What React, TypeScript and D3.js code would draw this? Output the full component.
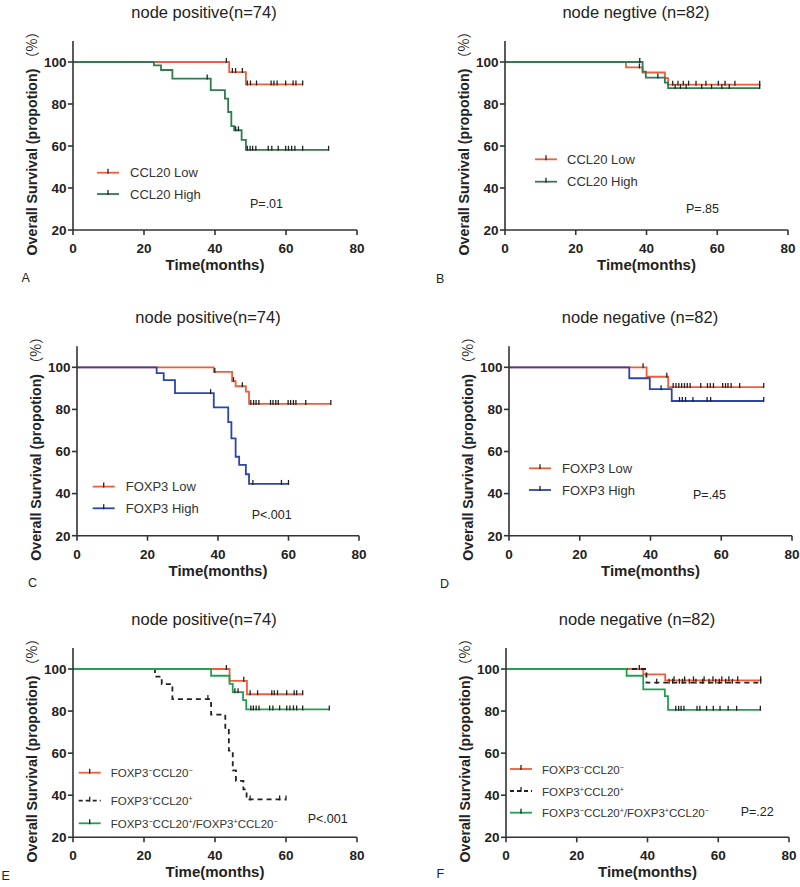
import React from "react";
import * as d3 from "d3";

// ---------------- data ----------------
const xTicks = [0, 20, 40, 60, 80];
const yTicks = [20, 40, 60, 80, 100];
const titles = [
  "node positive(n=74)",
  "node negtive (n=82)",
  "node positive(n=74)",
  "node negative (n=82)",
  "node positive(n=74)",
  "node negative (n=82)",
];
const panelLetters = ["A", "B", "C", "D", "E", "F"];
const pValues = ["P=.01", "P=.85", "P<.001", "P=.45", "P<.001", "P=.22"];
const legendCCL20 = ["CCL20 Low", "CCL20 High"];
const legendFOXP3 = ["FOXP3 Low", "FOXP3 High"];
const legendCombo = ["FOXP3^-CCL20^-", "FOXP3^+CCL20^+", "FOXP3^-CCL20^+/FOXP3^+CCL20^-"];

// Panel A: CCL20, node positive
const aLowSteps = [[0, 100], [44.0, 95.2], [48.7, 89.3]];
const aLowCensor = [43.2, 44.9, 45.8, 47.7, 49.1, 50.0, 51.7, 55.8, 56.6, 57.5, 59.9, 62.0, 62.8, 64.7];
const aHighSteps = [[0, 100], [22.8, 98.4], [24.8, 96.2], [28.0, 92.1], [38.8, 86.6], [42.8, 82.6], [43.7, 76.2], [44.6, 69.5], [45.4, 67.5], [47.5, 62.9], [48.7, 58.2]];
const aHighCensor = [37.8, 45.8, 46.6, 49.1, 49.9, 50.6, 51.5, 55.0, 56.0, 57.8, 59.9, 60.7, 61.6, 62.5, 64.7, 72];

// Panel B: CCL20, node negative
const bLowSteps = [[0, 100], [34.2, 97.4], [38.9, 95.0], [45.2, 92.3], [46.1, 89.2]];
const bLowCensor = [38.0, 47.4, 48.9, 50.4, 51.9, 54.0, 56.8, 60.3, 62.2, 65.0, 72];
const bHighSteps = [[0, 100], [38.9, 95.4], [39.8, 92.6], [45.2, 90.2], [46.1, 87.6]];
const bHighCensor = [38.1, 43.2, 48.1, 49.6, 51.2, 55.6, 58.4, 61.3, 63.4, 72];

// Panel C: FOXP3, node positive
const cLowSteps = [[0, 100], [38.8, 97.8], [44.0, 93.4], [45.0, 91.0], [47.9, 88.4], [48.8, 82.6]];
const cLowCensor = [39.1, 44.4, 46.9, 49.3, 50.1, 50.8, 51.6, 54.9, 55.6, 56.4, 57.1, 59.9, 60.6, 61.4, 62.1, 64.9, 72];
const cHighSteps = [[0, 100], [22.6, 97.2], [24.6, 93.9], [27.8, 87.7], [38.8, 81.0], [42.9, 74.0], [43.8, 66.2], [45.0, 57.5], [46.0, 53.6], [47.9, 49.2], [48.8, 44.6]];
const cHighCensor = [37.9, 49.9, 58.0, 60.0];

// Panel D: FOXP3, node negative
const dLowSteps = [[0, 100], [38.9, 95.5], [45.0, 90.6]];
const dLowCensor = [37.9, 44.6, 46.4, 47.2, 48.0, 48.8, 49.6, 50.4, 51.2, 54.2, 56.1, 56.9, 57.8, 60.4, 61.2, 61.9, 62.8, 65.2, 72];
const dHighSteps = [[0, 100], [34.0, 94.8], [39.8, 89.6], [46.0, 84.0]];
const dHighCensor = [43.0, 48.2, 49.0, 49.9, 52.0, 56.0, 57.0, 72];

// Panel E: combined, node positive
const eLowSteps = [[0, 100], [44.1, 94.4], [49.0, 88.0]];
const eLowCensor = [43.2, 48.1, 49.9, 52.0, 56.0, 56.7, 57.6, 60.2, 62.3, 63.0, 64.7];
const eBothSteps = [[0, 100], [23.1, 96.4], [25.0, 92.8], [28.0, 85.7], [38.9, 78.3], [42.9, 71.0], [43.9, 61.2], [45.0, 51.8], [45.9, 46.8], [48.0, 42.8], [48.9, 38.0]];
const eBothCensor = [38.0, 49.9, 58.2, 60.0];
const eMixSteps = [[0, 100], [38.9, 96.8], [44.1, 92.9], [45.0, 89.0], [47.9, 85.2], [48.8, 80.8]];
const eMixCensor = [45.6, 46.5, 50.1, 50.8, 51.6, 52.4, 55.4, 56.3, 58.2, 60.2, 61.1, 62.1, 63.0, 64.7, 72.2];

// Panel F: combined, node negative
const fLowSteps = [[0, 100], [38.8, 97.4], [45.0, 94.6]];
const fLowCensor = [37.7, 47.5, 50.5, 53.0, 56.0, 58.5, 61.0, 63.0, 65.5, 72];
const fBothSteps = [[0, 100], [39.7, 93.5]];
const fBothCensor = [42.6, 46.1, 47.1, 49.0, 49.9, 51.8, 53.7, 55.6, 57.4, 59.3, 60.3, 62.1, 64.0, 72];
const fMixSteps = [[0, 100], [34.1, 96.8], [38.8, 90.3], [44.9, 87.1], [45.8, 80.6]];
const fMixCensor = [48.0, 48.8, 49.5, 50.3, 54.0, 54.8, 56.7, 58.6, 60.5, 62.8, 65.2, 71.9];

// ---------------- styles / layout ----------------
const RED = "#ef5d3b";
const GREEN_DARK = "#2f7b52";
const GREEN = "#22a052";
const BLUE = "#2c45aa";
const BLACK = "#222";
const AXIS = "#333";
const FONT = "'Liberation Sans', Arial, Helvetica, sans-serif";

const layouts = [
  { x0: 73, x80: 357, y20: 230, y100: 62, leg: [24, 33, [110.7, 132]], p: [177, 146], letter: [21.5, 282], legFont: 13 },
  { x0: 505, x80: 788, y20: 230, y100: 62, leg: [30, 32, [97.3, 119.7]], p: [181, 150.7], letter: [436, 283], legFont: 13 },
  { x0: 77, x80: 359, y20: 535.7, y100: 367.3, leg: [15.7, 33, [119.3, 141]], p: [174.7, 152], letter: [28, 587], legFont: 13 },
  { x0: 509, x80: 792, y20: 535.7, y100: 367.3, leg: [20, 33, [101, 122.7]], p: [184, 132], letter: [440, 588], legFont: 13 },
  { x0: 73, x80: 357, y20: 837.3, y100: 669, leg: [5.7, 32, [103.7, 131.7, 154.3]], p: [234.7, 154.3], letter: [1.5, 880], legFont: 11.5 },
  { x0: 506, x80: 789, y20: 837.3, y100: 669, leg: [4, 32, [100, 122, 143.7]], p: [234.7, 147], letter: [436.5, 878], legFont: 11.5 },
];

type Series = { steps: number[][]; censor: number[]; color: string; dash?: string };

const panelSeries: Series[][] = [
  [
    { steps: aLowSteps, censor: aLowCensor, color: RED },
    { steps: aHighSteps, censor: aHighCensor, color: GREEN_DARK },
  ],
  [
    { steps: bLowSteps, censor: bLowCensor, color: RED },
    { steps: bHighSteps, censor: bHighCensor, color: GREEN_DARK },
  ],
  [
    { steps: cLowSteps, censor: cLowCensor, color: RED },
    { steps: cHighSteps, censor: cHighCensor, color: BLUE },
  ],
  [
    { steps: dLowSteps, censor: dLowCensor, color: RED },
    { steps: dHighSteps, censor: dHighCensor, color: BLUE },
  ],
  [
    { steps: eLowSteps, censor: eLowCensor, color: RED },
    { steps: eBothSteps, censor: eBothCensor, color: BLACK, dash: "5,4" },
    { steps: eMixSteps, censor: eMixCensor, color: GREEN },
  ],
  [
    { steps: fLowSteps, censor: fLowCensor, color: RED },
    { steps: fBothSteps, censor: fBothCensor, color: BLACK, dash: "5,4" },
    { steps: fMixSteps, censor: fMixCensor, color: GREEN },
  ],
];
const panelLegends = [legendCCL20, legendCCL20, legendFOXP3, legendFOXP3, legendCombo, legendCombo];

function levelAt(steps: number[][], t: number) {
  const i = d3.bisectRight(steps.map((s) => s[0]), t) - 1;
  return steps[Math.max(0, i)][1];
}

function LegendLabel({ label, size }: { label: string; size: number }) {
  const parts = label.split(/\^([+-])/);
  const out: any[] = [];
  parts.forEach((p, i) => {
    if (i % 2 === 0) {
      if (p) out.push(<tspan key={i} fontSize={size}>{p}</tspan>);
    } else {
      out.push(
        <tspan key={i} fontSize={size * 0.62} baselineShift="super">
          {p === "-" ? "\u2212" : "+"}
        </tspan>
      );
    }
  });
  return <>{out}</>;
}

function Panel({ idx }: { idx: number }) {
  const L = layouts[idx];
  const series = panelSeries[idx];
  const legend = panelLegends[idx];
  const x = d3.scaleLinear().domain([0, 80]).range([L.x0, L.x80]);
  const y = d3.scaleLinear().domain([20, 100]).range([L.y20, L.y100]);
  const line = d3
    .line<number[]>()
    .x((d) => x(d[0]))
    .y((d) => y(d[1]))
    .curve(d3.curveStepAfter);

  const yTop = y(110);
  const midX = (x(0) + x(80)) / 2;

  return (
    <g>
      {/* title */}
      <text x={L.x0 + 131} y={L.y100 - 44} textAnchor="middle" fontFamily={FONT} fontSize={16.5} fill="#222">
        {titles[idx]}
      </text>

      {/* curves */}
      {series.map((s, i) => {
        const end = d3.max(s.censor) as number;
        const pts = [...s.steps, [end, s.steps[s.steps.length - 1][1]]];
        return (
          <path
            key={"l" + i}
            d={line(pts) || ""}
            fill="none"
            stroke={s.color}
            strokeWidth={1.8}
            strokeDasharray={s.dash}
          />
        );
      })}
      {series.map((s, i) => (
        <g key={"c" + i}>
          {s.censor.map((c, j) => {
            const yy = y(levelAt(s.steps, c));
            return <line key={j} x1={x(c)} x2={x(c)} y1={yy - 4} y2={yy + 1} stroke={BLACK} strokeWidth={1.3} />;
          })}
        </g>
      ))}

      {/* axes */}
      <line x1={x(0)} x2={x(0)} y1={y(20)} y2={yTop} stroke={AXIS} strokeWidth={1.6} />
      <line x1={x(0)} x2={x(80)} y1={y(20)} y2={y(20)} stroke={AXIS} strokeWidth={1.6} />
      {yTicks.map((t) => (
        <g key={"yt" + t}>
          <line x1={x(0) - 5} x2={x(0)} y1={y(t)} y2={y(t)} stroke={AXIS} strokeWidth={1.6} />
          <text
            x={x(0) - 6.5}
            y={y(t) + 4.8}
            textAnchor="end"
            fontFamily={FONT}
            fontWeight="bold"
            fontSize={13.5}
            fill="#222"
          >
            {t}
          </text>
        </g>
      ))}
      {xTicks.map((t) => (
        <g key={"xt" + t}>
          <line x1={x(t)} x2={x(t)} y1={y(20)} y2={y(20) + 5} stroke={AXIS} strokeWidth={1.6} />
          <text
            x={x(t)}
            y={y(20) + 23}
            textAnchor="middle"
            fontFamily={FONT}
            fontWeight="bold"
            fontSize={13.5}
            fill="#222"
          >
            {t}
          </text>
        </g>
      ))}
      <text x={midX} y={y(20) + 40} textAnchor="middle" fontFamily={FONT} fontWeight="bold" fontSize={15} fill="#222">
        Time(months)
      </text>
      <text
        transform={`translate(${L.x0 - 36.5},${L.y100 + 78}) rotate(-90)`}
        textAnchor="middle"
        fontFamily={FONT}
        fontWeight="bold"
        fontSize={14.2}
        fill="#222"
      >
        Overall Survival (propotion)
        <tspan fontWeight="normal" fontFamily="'Noto Sans CJK SC', sans-serif" fontSize={14}>
          {" \uFF08%\uFF09"}
        </tspan>
      </text>

      {/* legend */}
      {legend.map((lab, i) => {
        const s = series[i];
        const ly = L.y100 + L.leg[2][i];
        const lx = L.x0 + L.leg[0];
        return (
          <g key={"lg" + i}>
            <line x1={lx} x2={lx + 22} y1={ly} y2={ly} stroke={s.color} strokeWidth={1.8} strokeDasharray={s.dash ? "4,3" : undefined} />
            <line x1={lx + 11} x2={lx + 11} y1={ly - 4} y2={ly + 1} stroke={BLACK} strokeWidth={1.3} />
            <text x={L.x0 + L.leg[0] + L.leg[1]} y={ly + 4.5} fontFamily={FONT} fontSize={L.legFont} fill="#333">
              <LegendLabel label={lab} size={L.legFont} />
            </text>
          </g>
        );
      })}

      {/* p value */}
      <text x={L.x0 + L.p[0]} y={L.y100 + L.p[1]} fontFamily={FONT} fontSize={12.5} fill="#222">
        {pValues[idx]}
      </text>

      {/* panel letter */}
      <text x={L.letter[0]} y={L.letter[1]} fontFamily={FONT} fontSize={12.5} fill="#222">
        {panelLetters[idx]}
      </text>
    </g>
  );
}

export default function App() {
  return (
    <svg
      width={800}
      height={887}
      viewBox="0 0 800 887"
      style={{ position: "absolute", left: 0, top: 0, background: "#fff" }}
    >
      <rect x={0} y={0} width={800} height={887} fill="#fff" />
      {layouts.map((_, i) => (
        <Panel key={i} idx={i} />
      ))}
    </svg>
  );
}
